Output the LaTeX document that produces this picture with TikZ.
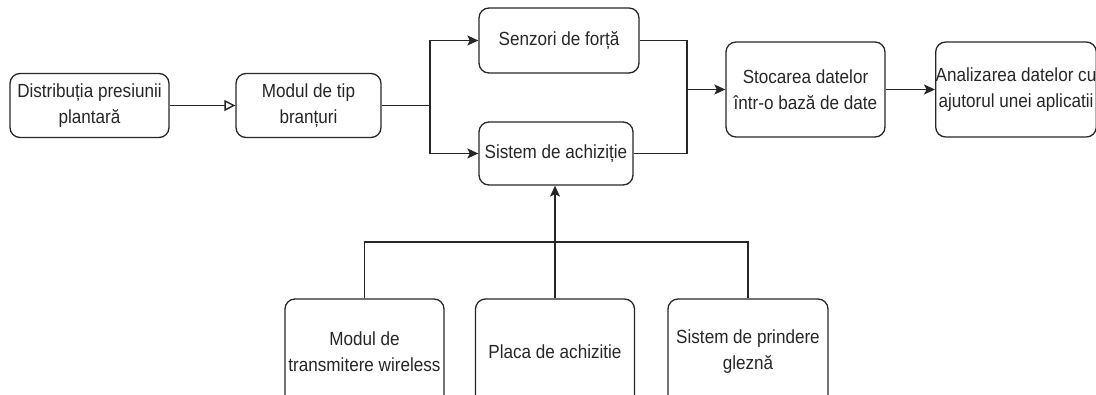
\documentclass[tikz,border=0pt]{standalone}
\usepackage{fontspec}
\setmainfont{Liberation Sans}
\newfontfamily\narrowsans[FakeStretch=0.9]{Liberation Sans}
\usetikzlibrary{arrows.meta,calc}
\begin{document}
\begin{tikzpicture}[x=1pt,y=1pt,
  blk/.style={draw=black!85, line width=1.3pt, rounded corners=10pt, align=center,
    inner sep=0pt, text=black!85, font=\narrowsans\fontsize{19pt}{26pt}\selectfont},
  conn/.style={draw=black!85, line width=1.4pt},
  arr/.style={conn, -{Stealth[length=11pt,width=10pt,inset=2.5pt]}},
  oarr/.style={conn, -{Triangle[open,length=11pt,width=11pt]}}]
\useasboundingbox (0,0) rectangle (1096,-394);
\clip (0,0) rectangle (1096,-394);
\node[blk, minimum width=159pt, minimum height=64pt] (b1) at (89.5,-105.5) {Distribuția presiunii\\plantară};
\node[blk, minimum width=145pt, minimum height=64pt] (b2) at (308.5,-105.5) {Modul de tip\\branțuri};
\node[blk, minimum width=160pt, minimum height=65pt] (b3) at (559,-40.5) {Senzori de forță};
\node[blk, minimum width=154pt, minimum height=63pt] (b4) at (556,-153.5) {Sistem de achiziție};
\node[blk, minimum width=159pt, minimum height=95pt] (b5) at (805.5,-89.5) {Stocarea datelor\\într-o bază de date};
\node[blk, minimum width=156pt, minimum height=95pt] (b6) at (1016,-89.5) {Analizarea datelor cu\\ajutorul unei aplicatii};
\node[blk, minimum width=159pt, minimum height=106pt] (b7) at (364.5,-352) {Modul de\\transmitere wireless};
\node[blk, minimum width=159pt, minimum height=106pt] (b8) at (555,-352) {Placa de achizitie};
\node[blk, minimum width=160pt, minimum height=106pt] (b9) at (748,-352) {Sistem de prindere\\gleznă};
\coordinate (j1) at (430,-105.5);
\coordinate (j2) at (687,-89.5);
\coordinate (j3) at (555,-242);
\draw[oarr] (b1.east) -- (b2.west);
\draw[conn] (b2.east) -- (j1);
\draw[arr] (j1) |- (b3.west);
\draw[arr] (j1) |- (b4.west);
\draw[conn] (b3.east) -| (j2);
\draw[conn] (b4.east) -| (j2);
\draw[arr] (j2) -- (b5.west);
\draw[arr] (b5.east) -- (b6.west);
\draw[conn] (b7.north) |- (j3);
\draw[conn] (b9.north) |- (j3);
\draw[conn] (b8.north) -- (j3);
\draw[arr] (j3) -- (j3 |- b4.south);
\end{tikzpicture}
\end{document}
